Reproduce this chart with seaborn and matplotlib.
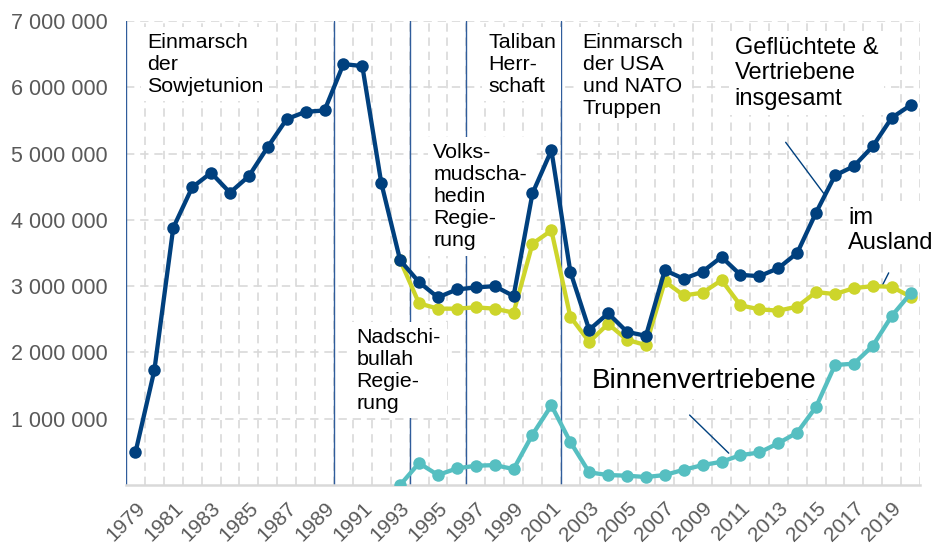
import numpy as np
import pandas as pd
import matplotlib
matplotlib.use("Agg")
import matplotlib.pyplot as plt
import matplotlib.ticker as mticker
import seaborn as sns

# Daten
jahre = list(range(1979, 2021))
insgesamt = [0.49, 1.73, 3.88, 4.49, 4.71, 4.41, 4.66, 5.10, 5.52, 5.63,
             5.65, 6.35, 6.32, 4.56, 3.39, 3.06, 2.83, 2.95, 2.98, 3.00,
             2.85, 4.40, 5.05, 3.22, 2.34, 2.59, 2.31, 2.25, 3.24, 3.11,
             3.22, 3.44, 3.17, 3.15, 3.27, 3.50, 4.11, 4.67, 4.81, 5.11,
             5.54, 5.73]
ausland = [None] * 14 + [3.39, 2.74, 2.66, 2.66, 2.68, 2.66,
                         2.60, 3.64, 3.84, 2.54, 2.16, 2.43, 2.19, 2.11, 3.07, 2.86,
                         2.90, 3.09, 2.71, 2.65, 2.63, 2.69, 2.91, 2.88, 2.97, 3.00,
                         2.99, 2.84]
binnen = [None] * 14 + [0.0, 0.33, 0.15, 0.25, 0.29, 0.30,
                        0.24, 0.76, 1.20, 0.65, 0.19, 0.15, 0.14, 0.12, 0.15, 0.23,
                        0.30, 0.35, 0.45, 0.49, 0.63, 0.79, 1.18, 1.81, 1.83, 2.10,
                        2.55, 2.89]
zaesuren = [1978.5, 1989.5, 1993.5, 1996.5, 2001.5]

df = pd.DataFrame({
    "jahr": jahre,
    "insgesamt": np.array(insgesamt, dtype=float) * 1e6,
    "ausland": np.array(ausland, dtype=float) * 1e6,
    "binnen": np.array(binnen, dtype=float) * 1e6,
})

DUNKELBLAU = "#00407e"
GELB = "#cdd52b"
TUERKIS = "#56bfc1"
LINIENBLAU = "#2f5c9b"
GRAU = "#595959"

sns.set_theme(style="white")
plt.rcParams["font.family"] = ["Liberation Sans", "DejaVu Sans"]

fig = plt.figure(figsize=(9.36, 5.44), dpi=100)
ax = fig.add_axes([0.1346, 0.1085, 0.983 - 0.1346, 0.9614 - 0.1085])

line_kw = dict(marker="o", markersize=9, markeredgewidth=0, linewidth=3.1, zorder=3)
sns.lineplot(data=df, x="jahr", y="ausland", color=GELB, ax=ax, **line_kw)
sns.lineplot(data=df, x="jahr", y="insgesamt", color=DUNKELBLAU, ax=ax, **line_kw)
sns.lineplot(data=df, x="jahr", y="binnen", color=TUERKIS, ax=ax, **line_kw)

for z in zaesuren:
    ax.axvline(z, color=LINIENBLAU, linewidth=1, zorder=1)

ax.set_xlim(1978.5, 2020.5)
ax.set_ylim(0, 7e6)
ax.set_xlabel("")
ax.set_ylabel("")

ax.xaxis.set_major_locator(mticker.FixedLocator(list(range(1979, 2020, 2))))
ax.xaxis.set_minor_locator(mticker.FixedLocator([j + 0.5 for j in range(1978, 2021)]))
ax.yaxis.set_major_locator(mticker.FixedLocator([1e6 * k for k in range(1, 8)]))
ax.yaxis.set_major_formatter(mticker.FuncFormatter(lambda v, p: f"{int(v):,}".replace(",", " ")))

ax.set_axisbelow(True)
ax.grid(False)
ax.grid(True, which="major", axis="y", linestyle=(0, (5, 3.5)), color="#d9d9d9", linewidth=1.2)
ax.grid(True, which="minor", axis="x", linestyle=(0, (5, 3.5)), color="#d9d9d9", linewidth=1.2)

for s in ["left", "right", "top"]:
    ax.spines[s].set_visible(False)
ax.spines["bottom"].set_color("#d9d9d9")
ax.spines["bottom"].set_linewidth(1.8)

ax.tick_params(axis="y", length=0, pad=13, labelsize=15.5, labelcolor=GRAU)
ax.tick_params(axis="x", which="both", length=0, pad=10, labelsize=15, labelcolor=GRAU)
for lbl in ax.get_xticklabels():
    lbl.set_rotation(45)
    lbl.set_ha("right")
    lbl.set_va("top")
    lbl.set_rotation_mode("anchor")

box = dict(facecolor="white", edgecolor="none", pad=4)
txt_kw = dict(ha="left", va="top", color="black", zorder=1.5, bbox=box)
ax.text(1979.6, 6.82e6, "Einmarsch\nder\nSowjetunion", fontsize=15.4, **txt_kw)
ax.text(1997.65, 6.82e6, "Taliban\nHerr-\nschaft", fontsize=15.4, **txt_kw)
ax.text(2002.65, 6.82e6, "Einmarsch\nder USA\nund NATO\nTruppen", fontsize=15.4, **txt_kw)
ax.text(1994.75, 5.16e6, "Volks-\nmudscha-\nhedin\nRegie-\nrung", fontsize=15.4, **txt_kw)
ax.text(1990.7, 2.37e6, "Nadschi-\nbullah\nRegie-\nrung", fontsize=15.4, **txt_kw)
ax.text(2010.7, 6.76e6, "Geflüchtete &\nVertriebene\ninsgesamt", fontsize=17, **txt_kw)
ax.text(2016.7, 4.2e6, "im\nAusland", fontsize=17, **txt_kw)
ax.text(2003.15, 1.77e6, "Binnenvertriebene", fontsize=20, **txt_kw)

# Hinweislinien
ax.plot([2013.39, 2015.4], [5.17e6, 4.40e6], color=DUNKELBLAU, linewidth=1, zorder=2)
ax.plot([2018.84, 2018.52], [3.20e6, 3.02e6], color=DUNKELBLAU, linewidth=1, zorder=2)
ax.plot([2008.31, 2010.38], [1.055e6, 0.48e6], color=DUNKELBLAU, linewidth=1, zorder=2)

fig.savefig("out.png", dpi=100)
plt.close(fig)
